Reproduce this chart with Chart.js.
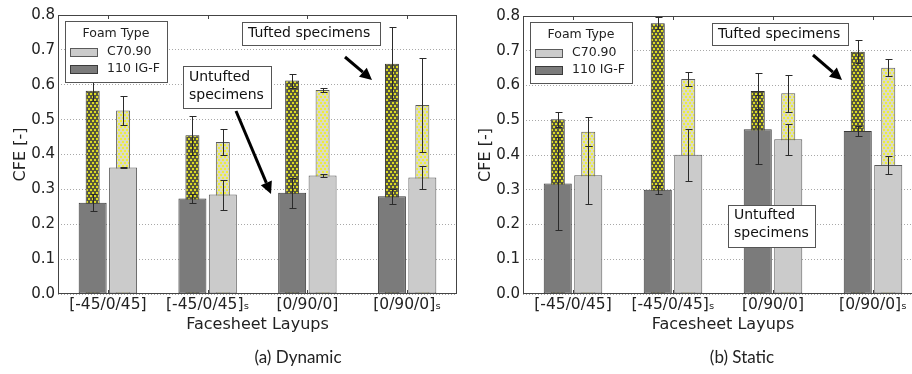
<!DOCTYPE html>
<html>
<head>
<meta charset="utf-8">
<script src="https://cdn.jsdelivr.net/npm/chart.js@4.4.1/dist/chart.umd.min.js"></script>
<style>
  html, body { margin: 0; padding: 0; background: #fff; }
  #fig { position: relative; width: 912px; height: 374px; overflow: hidden; }
  canvas { position: absolute; top: 0; }
  #dyn { left: 0; }
  #sta { left: 465px; }
  .cap { position: absolute; top: 347px; font: 17px Lato, sans-serif; color: #222;
         line-height: 20px; transform: translateX(-50%); white-space: nowrap; }
</style>
</head>
<body>
<div id="fig">
  <canvas id="dyn" width="462" height="374" style="width:462px;height:374px"></canvas>
  <canvas id="sta" width="461" height="374" style="width:461px;height:374px"></canvas>
  <div class="cap" style="left:298px">(a) Dynamic</div>
  <div class="cap" style="left:742px">(b) Static</div>
</div>
<script>
// layups on the x axis, foam types in the legend
const layups = ['[-45/0/45]', '[-45/0/45]\u209B', '[0/90/0]', '[0/90/0]\u209B'];
const foamTypes = ['C70.90', '110 IG-F'];
const legendTitle = 'Foam Type';

// (a) dynamic CFE, mean and error half-width
const dynUntuftedIGF = [0.262, 0.274, 0.290, 0.280];
const dynUntuftedIGFErr = [0.024, 0.014, 0.042, 0.022];
const dynUntuftedC70 = [0.363, 0.285, 0.340, 0.334];
const dynUntuftedC70Err = [0.002, 0.043, 0.005, 0.032];
const dynTuftedIGF = [0.583, 0.455, 0.612, 0.660];
const dynTuftedIGFErr = [0.030, 0.056, 0.020, 0.105];
const dynTuftedC70 = [0.526, 0.436, 0.585, 0.542];
const dynTuftedC70Err = [0.042, 0.037, 0.005, 0.134];

// (b) static CFE
const staUntuftedIGF = [0.318, 0.300, 0.474, 0.469];
const staUntuftedIGFErr = [0.135, 0.013, 0.100, 0.014];
const staUntuftedC70 = [0.342, 0.401, 0.445, 0.371];
const staUntuftedC70Err = [0.083, 0.075, 0.045, 0.026];
const staTuftedIGF = [0.503, 0.779, 0.584, 0.697];
const staTuftedIGFErr = [0.022, 0.017, 0.053, 0.033];
const staTuftedC70 = [0.467, 0.619, 0.578, 0.651];
const staTuftedC70Err = [0.042, 0.019, 0.053, 0.025];

Chart.defaults.font.family = '"DejaVu Sans", sans-serif';
Chart.defaults.color = '#222';

const IGF_FILL = '#7b7b7b', IGF_EDGE = '#3a3a3a';
const C70_FILL = '#cbcbcb', C70_EDGE = '#5a5a5a';

// staggered yellow dots, like the tufted hatch
function dotPattern(base, dot) {
  const c = document.createElement('canvas');
  c.width = 4; c.height = 6;
  const g = c.getContext('2d');
  g.fillStyle = base;
  g.fillRect(0, 0, 4, 6);
  g.fillStyle = dot;
  g.fillRect(0, 0, 2, 2);
  g.fillRect(2, 3, 2, 2);
  return c.getContext('2d').createPattern(c, 'repeat');
}

function arrow(ctx, x1, y1, x2, y2) {
  const a = Math.atan2(y2 - y1, x2 - x1);
  const hl = 12, hw = 6;
  const bx = x2 - hl * Math.cos(a), by = y2 - hl * Math.sin(a);
  ctx.strokeStyle = '#000';
  ctx.fillStyle = '#000';
  ctx.lineWidth = 3;
  ctx.beginPath(); ctx.moveTo(x1, y1); ctx.lineTo(bx, by); ctx.stroke();
  ctx.beginPath();
  ctx.moveTo(x2, y2);
  ctx.lineTo(bx + hw * Math.sin(a), by - hw * Math.cos(a));
  ctx.lineTo(bx - hw * Math.sin(a), by + hw * Math.cos(a));
  ctx.closePath(); ctx.fill();
}

// error bars, frame, legend box and the text notes
function makeDecor(errors, notes) {
  return {
    id: 'decor',
    afterDatasetsDraw(chart) {
      const ctx = chart.ctx, y = chart.scales.y, x = chart.scales.x, a = chart.chartArea;
      ctx.save();

      ctx.strokeStyle = '#2a2a2a';
      ctx.lineWidth = 1;
      errors.forEach((errs, di) => {
        const vals = chart.data.datasets[di].data;
        chart.getDatasetMeta(di).data.forEach((bar, i) => {
          const px = Math.round(bar.x) + 0.5;
          const t = Math.round(y.getPixelForValue(vals[i] + errs[i])) + 0.5;
          const b = Math.round(y.getPixelForValue(vals[i] - errs[i])) + 0.5;
          ctx.beginPath();
          ctx.moveTo(px, t); ctx.lineTo(px, b);
          ctx.moveTo(px - 3, t); ctx.lineTo(px + 4, t);
          ctx.moveTo(px - 3, b); ctx.lineTo(px + 4, b);
          ctx.stroke();
        });
      });

      // frame with small inward ticks
      ctx.strokeStyle = '#444';
      ctx.strokeRect(a.left + 0.5, a.top + 0.5, a.width - 1, a.height - 1);
      ctx.beginPath();
      x.ticks.forEach((tk, i) => {
        const px = Math.round(x.getPixelForTick(i)) + 0.5;
        ctx.moveTo(px, a.top); ctx.lineTo(px, a.top + 4);
        ctx.moveTo(px, a.bottom); ctx.lineTo(px, a.bottom - 4);
      });
      ctx.stroke();

      // legend
      const lx = a.left + 7, ly = a.top + 6, lw = 102, lh = 61;
      ctx.fillStyle = '#fff';
      ctx.fillRect(lx, ly, lw, lh);
      ctx.strokeStyle = '#555';
      ctx.strokeRect(lx + 0.5, ly + 0.5, lw, lh);
      ctx.font = '12.5px "DejaVu Sans"';
      ctx.textBaseline = 'middle';
      ctx.textAlign = 'center';
      ctx.fillStyle = '#222';
      ctx.fillText(legendTitle, lx + lw / 2, ly + 12.5);
      ctx.textAlign = 'left';
      [[1, ly + 31], [0, ly + 48]].forEach(([di, cy]) => {
        const ds = chart.data.datasets[di];
        ctx.fillStyle = ds.backgroundColor;
        ctx.fillRect(lx + 5, cy - 4, 27, 8);
        ctx.strokeStyle = ds.borderColor;
        ctx.strokeRect(lx + 5.5, cy - 3.5, 27, 8);
        ctx.fillStyle = '#222';
        ctx.fillText(ds.label, lx + 42, cy);
      });

      // notes
      ctx.font = '14px "DejaVu Sans"';
      notes.forEach(n => {
        const [bx, by, bw, bh] = n.box;
        ctx.fillStyle = '#fff';
        ctx.fillRect(bx, by, bw, bh);
        ctx.strokeStyle = '#555';
        ctx.lineWidth = 1;
        ctx.strokeRect(bx + 0.5, by + 0.5, bw, bh);
        ctx.fillStyle = '#111';
        n.lines.forEach((t, k) => ctx.fillText(t, bx + 6, by + n.first + k * 18));
        if (n.arrow) arrow(ctx, ...n.arrow);
      });
      ctx.restore();
    }
  };
}

function buildPanel(id, untIGF, untC70, tufIGF, tufC70, errors, notes, pad) {
  const wide = { borderWidth: 1, barPercentage: 0.92, categoryPercentage: 0.61, borderSkipped: false };
  const narrow = { borderWidth: 1, barPercentage: 0.46, categoryPercentage: 0.61, borderSkipped: false };
  new Chart(document.getElementById(id), {
    type: 'bar',
    data: {
      labels: layups,
      datasets: [
        { ...wide, label: foamTypes[1], data: untIGF, stack: 'igf', backgroundColor: IGF_FILL, borderColor: IGF_EDGE },
        { ...wide, label: foamTypes[0], data: untC70, stack: 'c70', backgroundColor: C70_FILL, borderColor: C70_EDGE },
        { ...narrow, label: foamTypes[1] + ' tufted', data: tufIGF, stack: 'igf',
          backgroundColor: dotPattern('#57573c', '#dcdc22'), borderColor: '#303030' },
        { ...narrow, label: foamTypes[0] + ' tufted', data: tufC70, stack: 'c70',
          backgroundColor: dotPattern('#dadac6', '#eeee3a'), borderColor: '#5a5a5a' }
      ]
    },
    options: {
      responsive: false,
      devicePixelRatio: 1,
      animation: false,
      events: [],
      layout: { padding: { top: pad.top, right: pad.right, bottom: 30, left: 0 } },
      plugins: { legend: { display: false }, tooltip: { enabled: false } },
      scales: {
        x: {
          stacked: true,
          grid: { display: false, drawTicks: false },
          border: { display: false },
          ticks: { padding: 2, font: { size: 15.5 }, maxRotation: 0 },
          title: { display: true, text: 'Facesheet Layups', font: { size: 16 }, padding: { top: 0, bottom: 9.4 } },
          afterFit: s => { s.height = 50; }
        },
        y: {
          stacked: false,
          min: 0, max: 0.8,
          grid: { color: '#a8a8a8', drawTicks: false },
          border: { display: false, dash: [1, 2] },
          ticks: { stepSize: 0.1, padding: 3, font: { size: 15 }, callback: v => v.toFixed(1) },
          title: { display: true, text: 'CFE [-]', font: { size: 16 }, padding: { top: 11.5, bottom: 0 } },
          afterFit: s => { s.width = 58; }
        }
      }
    },
    plugins: [makeDecor(errors, notes)]
  });
}

buildPanel('dyn', dynUntuftedIGF, dynUntuftedC70, dynTuftedIGF, dynTuftedC70,
  [dynUntuftedIGFErr, dynUntuftedC70Err, dynTuftedIGFErr, dynTuftedC70Err],
  [
    { box: [242, 22, 138, 23], lines: ['Tufted specimens'], first: 11.5, arrow: [345, 57, 372, 80] },
    { box: [183, 66, 88, 42], lines: ['Untufted', 'specimens'], first: 11, arrow: [236, 111, 271, 194] }
  ],
  { top: 15, right: 5 });

buildPanel('sta', staUntuftedIGF, staUntuftedC70, staTuftedIGF, staTuftedC70,
  [staUntuftedIGFErr, staUntuftedC70Err, staTuftedIGFErr, staTuftedC70Err],
  [
    { box: [247, 23, 136, 22], lines: ['Tufted specimens'], first: 11, arrow: [348, 55, 377, 80] },
    { box: [263, 205, 87, 42], lines: ['Untufted', 'specimens'], first: 10.5 }
  ],
  { top: 16, right: 3 });
</script>
</body>
</html>
